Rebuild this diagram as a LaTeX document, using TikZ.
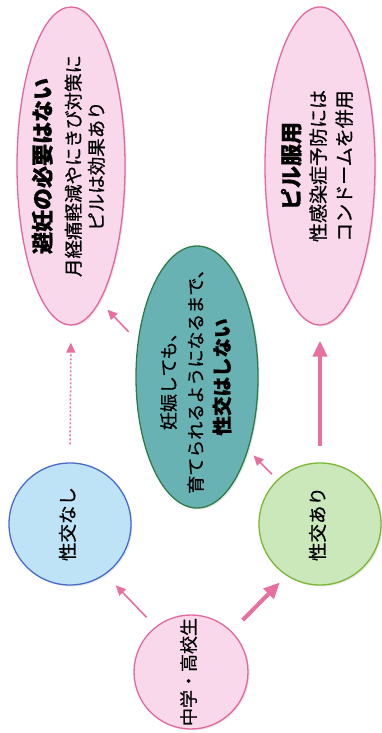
\documentclass[tikz,border=0pt]{standalone}
\usepackage{fontspec}
\usepackage{graphicx}
\newfontfamily\jp[FakeBold=0.7]{Noto Sans CJK JP}
\usetikzlibrary{arrows.meta,shapes.geometric,shadows}
\definecolor{pinkfill}{RGB}{250,216,236}
\definecolor{pinkline}{RGB}{224,104,158}
\definecolor{arrowpink}{RGB}{232,112,160}
\definecolor{bluefill}{RGB}{190,226,246}
\definecolor{blueline}{RGB}{72,108,204}
\definecolor{greenfill}{RGB}{202,232,186}
\definecolor{greenline}{RGB}{124,182,52}
\definecolor{tealfill}{RGB}{104,178,180}
\definecolor{tealline}{RGB}{46,124,72}
\newcommand{\vtext}[1]{\makebox[0pt]{\raisebox{\dimexpr(\depth-\height)/2\relax}[0pt][0pt]{\rotatebox{90}{\begin{tabular}{@{}c@{}}#1\end{tabular}}}}}
\begin{document}
\begin{tikzpicture}[x=1pt,y=1pt,
  base/.style={inner sep=0pt, line width=1.3pt, text=black,
    drop shadow={shadow xshift=1.5pt,shadow yshift=-1.5pt,opacity=0.15,fill=black!60}},
  pinkcirc/.style={base, circle, draw=pinkline, fill=pinkfill},
  bluecirc/.style={base, circle, draw=blueline, fill=bluefill},
  greencirc/.style={base, circle, draw=greenline, fill=greenfill},
  pinkell/.style={base, ellipse, draw=pinkline, fill=pinkfill},
  tealell/.style={base, ellipse, draw=tealline, fill=tealfill},
  thinarrow/.style={draw=arrowpink, line width=1.6pt, -{Triangle[length=10pt,width=9pt]}},
  thickarrow/.style={draw=arrowpink, line width=4pt, -{Triangle[length=16pt,width=14pt]}},
  dotarrow/.style={draw=arrowpink, line width=1.5pt, dash pattern=on 2pt off 2pt, -{Triangle[length=10pt,width=9pt]}}
]
\useasboundingbox[fill=white] (0,0) rectangle (381,733);

\node[pinkcirc, minimum size=114pt, font=\jp\fontsize{18}{22}\selectfont] (chu) at (191,61)
  {\vtext{中学・高校生}};
\node[bluecirc, minimum size=122pt, font=\jp\fontsize{18.5}{22}\selectfont] (nashi) at (70,209)
  {\vtext{性交なし}};
\node[greencirc, minimum size=122pt, font=\jp\fontsize{18.5}{22}\selectfont] (ari) at (320,209)
  {\vtext{性交あり}};
\node[tealell, minimum width=122pt, minimum height=262pt, font=\jp\fontsize{18}{27}\selectfont] (teal) at (197,356)
  {\vtext{妊娠しても、\\育てられるようになるまで、\\{\fontsize{19.5}{27}\selectfont\bfseries 性交はしない}}};
\node[pinkell, minimum width=108pt, minimum height=318pt, font=\jp\fontsize{18.5}{23}\selectfont] (hinin) at (71,567)
  {\vtext{{\fontsize{22}{26}\selectfont\bfseries 避妊の必要はない}\\[6.7pt]月経痛軽減やにきび対策に\\ピルは効果あり}};
\node[pinkell, minimum width=110pt, minimum height=318pt, font=\jp\fontsize{19}{26}\selectfont] (pill) at (320,567)
  {\vtext{{\fontsize{22}{26}\selectfont\bfseries ピル服用}\\性感染症予防には\\コンドームを併用}};

\draw[thinarrow, shorten <=12.8pt, shorten >=15pt] (chu.128) -- (nashi.-55.5);
\draw[thickarrow, shorten <=15.6pt, shorten >=9.5pt] (chu.45.7) -- (ari.237);
\draw[thinarrow, shorten <=7.5pt, shorten >=7.4pt] (ari.134.5) -- (teal.-55);
\draw[thinarrow, shorten <=13pt, shorten >=11pt] (teal.149.7) -- (hinin.-78.2);
\draw[dotarrow, shorten <=18pt, shorten >=17pt] (nashi.north) -- (hinin.south);
\draw[thickarrow, shorten <=16pt, shorten >=15pt] (ari.north) -- (pill.south);
\end{tikzpicture}
\end{document}
